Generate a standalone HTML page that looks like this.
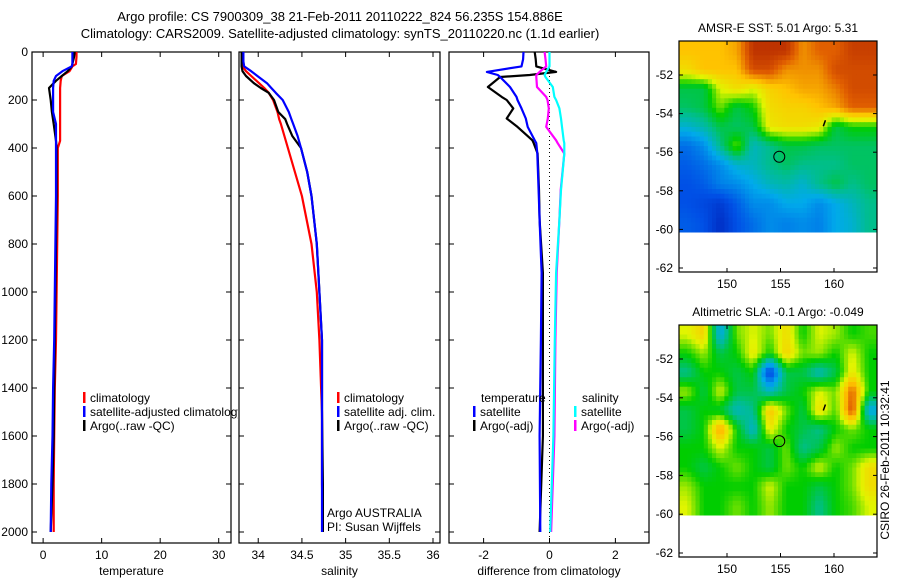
<!DOCTYPE html>
<html><head><meta charset="utf-8"><style>
html,body{margin:0;padding:0;background:#fff;}
svg{display:block;font-family:"Liberation Sans",sans-serif;}
</style></head><body>
<svg id="fig" width="900" height="580" viewBox="0 0 900 580" xmlns="http://www.w3.org/2000/svg">
<rect x="0" y="0" width="900" height="580" fill="#fff"/>
<text x="340" y="21" font-size="13" text-anchor="middle">Argo profile: CS 7900309_38 21-Feb-2011 20110222_824 56.235S 154.886E</text>
<text x="340" y="38" font-size="13" text-anchor="middle">Climatology: CARS2009. Satellite-adjusted climatology: synTS_20110220.nc (1.1d earlier)</text>
<g id="g"></g>
</svg>
<script>
// ---- profile data ----
const tDepth = [0,20,50,60,80,100,120,150,200,250,300,370,400,600,800,1000,1200,1400,1600,1800,2000];
const tClim  = [5.7,5.7,5.6,5.0,4.5,3.2,3.0,2.9,2.9,2.9,2.9,2.9,2.5,2.5,2.4,2.3,2.2,2.0,1.9,1.8,1.8];
const tSat   = [5.0,5.0,5.0,4.9,3.3,2.2,1.8,1.7,1.7,1.7,2.2,2.2,2.2,2.2,2.1,2.0,1.9,1.7,1.6,1.4,1.3];
const tArgo  = [5.4,5.3,5.0,4.9,4.2,3.2,2.2,1.0,1.3,1.5,1.8,2.2,2.3,2.3,2.2,2.1,2.0,1.9,1.8,1.6,1.3];

const sDepth = [0,40,60,80,100,130,150,170,200,250,280,300,350,400,500,600,800,1000,1200,1400,1500,1800,2000];
const sClim  = [33.81,33.81,33.82,33.86,33.92,34.01,34.07,34.12,34.17,34.22,34.24,34.26,34.30,34.34,34.42,34.50,34.61,34.67,34.70,34.72,34.73,34.73,34.74];
const sSat   = [33.83,33.83,33.84,33.92,33.99,34.10,34.15,34.20,34.28,34.35,34.38,34.40,34.45,34.49,34.56,34.61,34.67,34.70,34.73,34.73,34.73,34.73,34.73];
const sArgo  = [33.81,33.81,33.81,33.82,33.86,33.95,34.03,34.12,34.18,34.23,34.31,34.33,34.39,34.49,34.56,34.61,34.67,34.70,34.73,34.73,34.73,34.74,34.74];

const dDepth   = [0,30,60,83,96,104,146,187,200,235,277,312,368,380,423,575,700,920,1200,1600,2000];
const dTempSat = [-0.79,-0.8,-0.85,-1.9,-1.57,-1.5,-1.2,-1.0,-0.97,-0.85,-0.72,-0.66,-0.45,-0.4,-0.37,-0.33,-0.3,-0.24,-0.26,-0.3,-0.28];
const dTempArg = [-0.45,-0.42,-0.4,0.2,-0.6,-1.5,-1.87,-1.45,-1.3,-1.1,-1.3,-0.97,-0.52,-0.48,-0.36,-0.32,-0.3,-0.2,-0.2,-0.2,-0.3];
const dSalSat  = [0.0,0.0,0.0,-0.1,-0.15,-0.12,0.1,0.15,0.2,0.3,0.35,0.38,0.43,0.45,0.45,0.35,0.3,0.2,0.16,0.12,0.02];
const dSalArg  = [-0.15,-0.12,-0.1,-0.3,-0.4,-0.4,-0.38,-0.1,-0.06,-0.02,-0.05,-0.1,0.2,0.25,0.45,0.34,0.3,0.22,0.18,0.15,0.05];

// ---- map data (colour index 0..1), 12 cols x 10 rows ----
const sstGrid = [
[.75,.75,.75,.78,.92,.92,.92,.8,.85,.85,.9,.9],
[.7,.75,.75,.75,.88,.88,.8,.8,.8,.88,.88,.88],
[.5,.5,.65,.7,.65,.72,.75,.78,.78,.82,.88,.88],
[.48,.5,.6,.5,.55,.7,.72,.72,.75,.78,.85,.85],
[.38,.42,.5,.48,.5,.68,.7,.7,.68,.5,.55,.55],
[.25,.3,.45,.6,.4,.45,.5,.5,.48,.48,.48,.48],
[.22,.25,.3,.38,.4,.45,.48,.45,.45,.45,.48,.48],
[.2,.22,.28,.3,.35,.4,.42,.38,.45,.5,.45,.48],
[.2,.18,.15,.22,.3,.3,.35,.35,.3,.35,.4,.45],
[.22,.2,.12,.2,.25,.3,.28,.3,.28,.35,.38,.45]];
const slaGrid = [
[.65,.72,.35,.6,.65,.6,.7,.55,.65,.62,.55,.58],
[.55,.62,.5,.55,.68,.55,.72,.6,.62,.55,.65,.55],
[.45,.55,.55,.5,.55,.15,.5,.5,.4,.5,.68,.55],
[.62,.5,.65,.5,.5,.4,.5,.55,.65,.6,.85,.55],
[.5,.55,.52,.4,.45,.75,.6,.5,.7,.58,.88,.35],
[.5,.55,.8,.55,.38,.68,.55,.5,.45,.55,.6,.55],
[.55,.55,.65,.55,.55,.5,.6,.45,.5,.62,.55,.55],
[.55,.5,.55,.6,.55,.5,.6,.55,.65,.55,.6,.7],
[.62,.55,.55,.55,.55,.65,.55,.55,.5,.55,.6,.7],
[.65,.55,.55,.6,.55,.62,.55,.55,.45,.55,.58,.65]];
const latTicks = [-52,-54,-56,-58,-60,-62];
const lonTicks = [150,155,160];
const depthTicks = [0,200,400,600,800,1000,1200,1400,1600,1800,2000];

const NS='http://www.w3.org/2000/svg';
const G=document.getElementById('g');
function mk(tag,attrs,parent){const e=document.createElementNS(NS,tag);for(const k in attrs)e.setAttribute(k,attrs[k]);(parent||G).appendChild(e);return e;}
function txt(x,y,s,size,anchor,parent){const e=mk('text',{x:x,y:y,'font-size':size,'text-anchor':anchor||'middle'},parent);e.textContent=s;return e;}

const TOP=52, BOT=543, D0=0, D1=(543-52)/48*200;
function yD(d){return TOP+(d-D0)/(D1-D0)*(BOT-TOP);}

function panel(name,x0,x1,v0,v1,xt,xlab,label){
  const g=mk('g',{});
  
  
  const sx=v=>x0+(v-v0)/(v1-v0)*(x1-x0);
  const fr=mk('rect',{x:x0,y:TOP,width:x1-x0,height:BOT-TOP,fill:'none',stroke:'#000','stroke-width':1.2},g);
  
  
  xt.forEach((v,i)=>{const x=sx(v);
    mk('line',{x1:x,x2:x,y1:BOT,y2:BOT-5,stroke:'#000'},g);
    mk('line',{x1:x,x2:x,y1:TOP,y2:TOP+5,stroke:'#000'},g);
    const t=txt(x,BOT+16,xlab[i],12,'middle',g);
    
    
  });
  depthTicks.forEach(d=>{const y=yD(d);
    mk('line',{x1:x0,x2:x0+5,y1:y,y2:y,stroke:'#000'},g);
    mk('line',{x1:x1,x2:x1-5,y1:y,y2:y,stroke:'#000'},g);
  });
  const xl=txt((x0+x1)/2,BOT+32,label,12,'middle',g);
  
  
  return {g,sx};
}
function series(p,name,vals,depths,color,w){
  const pts=vals.map((v,i)=>p.sx(v).toFixed(1)+','+yD(depths[i]).toFixed(1)).join(' ');
  const l=mk('polyline',{points:pts,fill:'none',stroke:color,'stroke-width':w||2.2,'stroke-linejoin':'round'},p.g);
  
  
}
function legend(g,x,y,color,label,name){
  mk('rect',{x:x,y:y-10,width:2.5,height:11,fill:color},g);
  const t=txt(x+7,y,label,12,'start',g);
  
  
}

// Panel 1: temperature
const p1=panel('temperature-panel',32,231,-1.9,32.1,[0,10,20,30],['0','10','20','30'],'temperature');
depthTicks.forEach(d=>{const t=txt(28,yD(d)+4,String(d),12,'end',p1.g);
  
  });
series(p1,'temp-climatology-line',tClim,tDepth,'#f00');
series(p1,'temp-argo-line',tArgo,tDepth,'#000');
series(p1,'temp-satellite-line',tSat,tDepth,'#00f');
const cp=mk('clipPath',{id:'c1'});
mk('rect',{x:32,y:0,width:206,height:580},cp);
const lg1=mk('g',{'clip-path':'url(#c1)'},p1.g);


legend(lg1,83,402,'#f00','climatology','legend-climatology');
legend(lg1,83,416,'#00f','satellite-adjusted climatology','legend-satellite-adjusted');
legend(lg1,83,430,'#000','Argo(..raw -QC)','legend-argo-raw');

// Panel 2: salinity
const p2=panel('salinity-panel',239,440,33.78,36.08,[34,34.5,35,35.5,36],['34','34.5','35','35.5','36'],'salinity');
series(p2,'sal-climatology-line',sClim,sDepth,'#f00');
series(p2,'sal-argo-line',sArgo,sDepth,'#000');
series(p2,'sal-satellite-line',sSat,sDepth,'#00f');
legend(p2.g,337,402,'#f00','climatology','legend-sal-climatology');
legend(p2.g,337,416,'#00f','satellite adj. clim.','legend-sal-satellite');
legend(p2.g,337,430,'#000','Argo(..raw -QC)','legend-sal-argo');
const a1=txt(327,517,'Argo AUSTRALIA',12,'start',p2.g);


const a2=txt(327,531,'PI: Susan Wijffels',12,'start',p2.g);



// Panel 3: differences
const p3=panel('difference-panel',449,649,-3.05,3.02,[-2,0,2],['-2','0','2'],'difference from climatology');
const zx=p3.sx(0);
const dl=mk('line',{x1:zx,x2:zx,y1:TOP,y2:BOT,stroke:'#000','stroke-dasharray':'1,3'},p3.g);


series(p3,'diff-temp-argo-line',dTempArg,dDepth,'#000');
series(p3,'diff-temp-satellite-line',dTempSat,dDepth,'#00f');
series(p3,'diff-sal-argo-line',dSalArg,dDepth,'#f0f');
series(p3,'diff-sal-satellite-line',dSalSat,dDepth,'#0ff');
const h1=txt(481,402,'temperature',12,'start',p3.g);


const h2=txt(582,402,'salinity',12,'start',p3.g);


legend(p3.g,473,416,'#00f','satellite','legend-diff-temp-satellite');
legend(p3.g,473,430,'#000','Argo(-adj)','legend-diff-temp-argo');
legend(p3.g,574,416,'#0ff','satellite','legend-diff-sal-satellite');
legend(p3.g,574,430,'#f0f','Argo(-adj)','legend-diff-sal-argo');

// Maps
const stops=[[0,[0,0,150]],[0.2,[0,80,230]],[0.35,[0,170,235]],[0.45,[0,190,140]],[0.55,[0,205,0]],[0.65,[225,245,0]],[0.75,[255,195,0]],[0.85,[225,95,0]],[1,[150,0,0]]];
function cmap(v){for(let i=1;i<stops.length;i++){if(v<=stops[i][0]){const a=stops[i-1],b=stops[i];const t=(v-a[0])/(b[0]-a[0]);
  const c=a[1].map((x,k)=>Math.round(x+(b[1][k]-x)*t));return 'rgb('+c+')';}}return 'rgb(150,0,0)';}
function sample(grid,fx,fy){
  const rows=grid.length, cols=grid[0].length;
  fx=Math.max(0,Math.min(cols-1,fx)); fy=Math.max(0,Math.min(rows-1,fy));
  const c0=Math.floor(fx), r0=Math.floor(fy), c1=Math.min(cols-1,c0+1), r1=Math.min(rows-1,r0+1);
  const tx=fx-c0, ty=fy-r0;
  return (grid[r0][c0]*(1-tx)+grid[r0][c1]*tx)*(1-ty)+(grid[r1][c0]*(1-tx)+grid[r1][c1]*tx)*ty;
}
function map(name,title,grid,box){
  const g=mk('g',{});
  
  
  const {x0,x1,y0,y1,lat52,lat62,dataBot}=box;
  const sy=lat=>lat52+(lat+52)/(-10)*(lat62-lat52);
  const sx=lon=>727+(lon-150)*(834-727)/10;
  const rows=grid.length, cols=grid[0].length, S=4;
  const cw=(x1-x0)/(cols*S), ch=(dataBot-y0)/(rows*S);
  for(let r=0;r<rows*S;r++)for(let c=0;c<cols*S;c++){
    const v=sample(grid,(c+0.5)/S-0.5,(r+0.5)/S-0.5);
    const cell=mk('rect',{x:(x0+c*cw).toFixed(2),y:(y0+r*ch).toFixed(2),width:(cw+0.5).toFixed(2),height:(ch+0.5).toFixed(2),fill:cmap(v)},g);
    
    
  }
  mk('rect',{x:x0,y:y0,width:x1-x0,height:y1-y0,fill:'none',stroke:'#000','stroke-width':1.2},g);
  latTicks.forEach(l=>{const y=sy(l);
    mk('line',{x1:x0,x2:x0+4,y1:y,y2:y,stroke:'#000'},g);
    mk('line',{x1:x1,x2:x1-4,y1:y,y2:y,stroke:'#000'},g);
    const t=txt(x0-6,y+4,String(l),12,'end',g);
    
    });
  lonTicks.forEach(l=>{const x=sx(l);
    mk('line',{x1:x,x2:x,y1:y1,y2:y1-4,stroke:'#000'},g);
    mk('line',{x1:x,x2:x,y1:y0,y2:y0+4,stroke:'#000'},g);
    const t=txt(x,y1+16,String(l),12,'middle',g);
    
    });
  const tt=txt((x0+x1)/2,y0-9,title,12,'middle',g);
  
  
  const c=mk('circle',{cx:sx(154.886),cy:sy(-56.235),r:5.5,fill:'none',stroke:'#000','stroke-width':1},g);
  
  
  mk('line',{x1:sx(159),y1:sy(-54.5)+3,x2:sx(159.2),y2:sy(-54.5)-3,stroke:'#000','stroke-width':1.5},g);
}
map('sst-map','AMSR-E SST: 5.01 Argo: 5.31',sstGrid,{x0:679,x1:877,y0:41,y1:272,lat52:75,lat62:268,dataBot:232});
map('sla-map','Altimetric SLA: -0.1 Argo: -0.049',slaGrid,{x0:679,x1:877,y0:325,y1:557,lat52:359,lat62:553,dataBot:515});
const st=txt(0,0,'CSIRO 26-Feb-2011 10:32:41',12,'middle');
st.setAttribute('transform','translate(889,460) rotate(-90)');


</script>
</body></html>
